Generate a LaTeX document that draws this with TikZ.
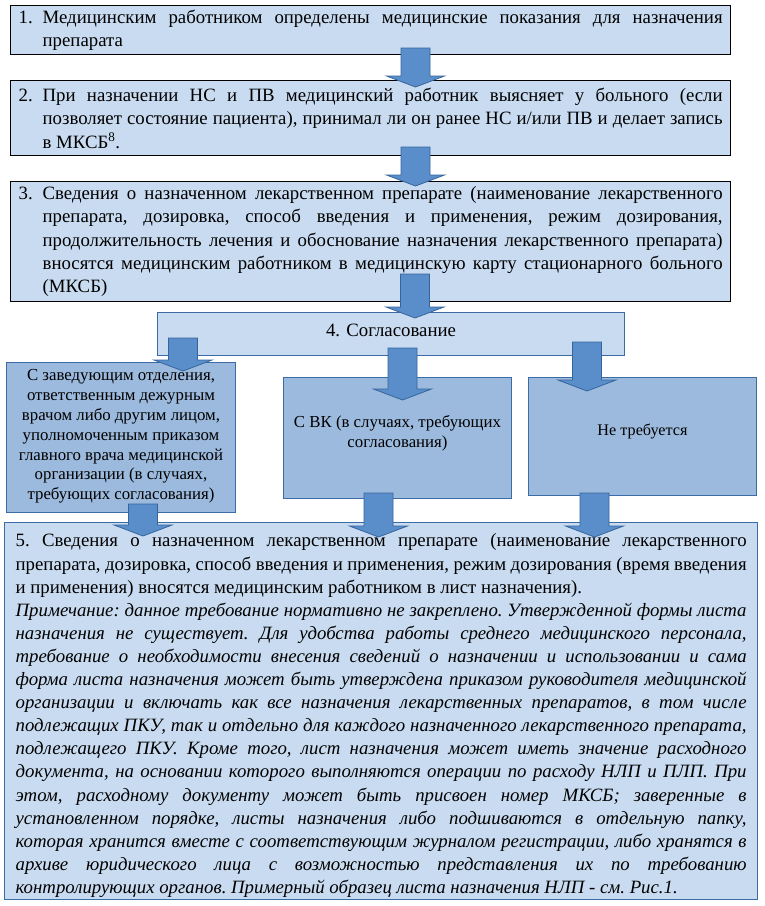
\documentclass[tikz,border=0pt]{standalone}
\usepackage{fontspec}
\setmainfont{Liberation Serif}
\usetikzlibrary{calc}
\definecolor{lightfill}{HTML}{C8DBF0}
\definecolor{darkfill}{HTML}{9CBADD}
\definecolor{bluebord}{HTML}{3C6CA6}
\definecolor{arrfill}{HTML}{5A8ECB}
\definecolor{arrline}{HTML}{36659C}
\newcommand\blockarrow[2]{%
  \filldraw[arrowstyle] ($(#1)+(-14.5,0)$) -- ($(#1)+(14.5,0)$) -- ($(#2)+(14.5,-11)$) -- ($(#2)+(29,-11)$) -- (#2) -- ($(#2)+(-29,-11)$) -- ($(#2)+(-14.5,-11)$) -- cycle;}
\newcommand\numbered[2]{\makebox[24pt][l]{#1}\parbox[t]{680pt}{\frenchspacing\tolerance=9999\emergencystretch=20pt\hbadness=10000 #2}}
\begin{document}
\begin{tikzpicture}[x=1pt,y=-1pt,
  mainbox/.style={draw=black, line width=1.3pt, fill=lightfill, anchor=north west,
    inner ysep=0pt, inner xsep=8pt, minimum width=720pt,
    font=\fontsize{18.8}{23.3}\selectfont},
  agreebox/.style={draw=bluebord, line width=1pt, fill=lightfill, anchor=north west,
    inner sep=0pt},
  subbox/.style={draw=bluebord, line width=1pt, fill=darkfill, anchor=north west,
    inner sep=0pt},
  subtext/.style={inner sep=0pt, align=center, font=\fontsize{16.8}{19.8}\selectfont},
  notebox/.style={draw=bluebord, line width=1.3pt, fill=lightfill, anchor=north west,
    inner sep=0pt},
  notetext/.style={inner sep=0pt, text width=731pt, align=justify,
    font=\fontsize{18.8}{23.1}\selectfont},
  arrowstyle/.style={fill=arrfill, draw=arrline, line width=0.8pt, line join=miter}]
\useasboundingbox[fill=white] (0,0) rectangle (765,906);

\node[mainbox, minimum height=49pt] (b1) at (10,5)
 {\numbered{1.}{Медицинским работником определены медицинские показания для назначения\linebreak препарата}};

\node[mainbox, minimum height=75pt] (b2) at (10,80)
 {\numbered{2.}{При назначении НС и ПВ медицинский работник выясняет у больного (если\linebreak позволяет состояние пациента), принимал ли он ранее НС и/или ПВ и делает запись\linebreak в МКСБ\textsuperscript{8}.}};

\node[mainbox, minimum height=120pt] (b3) at (10,181)
 {\numbered{3.}{Сведения о назначенном лекарственном препарате (наименование лекарственного\linebreak препарата, дозировка, способ введения и применения, режим дозирования,\linebreak продолжительность лечения и обоснование назначения лекарственного препарата)\linebreak вносятся медицинским работником в медицинскую карту стационарного больного\linebreak (МКСБ)}};

\node[agreebox, minimum width=467pt, minimum height=43pt] (b4) at (157,312) {};
\node[subtext, font=\fontsize{18.8}{23.3}\selectfont] (b4t) at ($(b4.center)+(0,-3.5)$) {4. Согласование};

\node[subbox, minimum width=229pt, minimum height=150pt] (bl) at (6,362) {};
\node[subtext] (blt) at ($(bl.center)+(0,-1)$)
 {С заведующим отделения,\\ответственным дежурным\\врачом либо другим лицом,\\уполномоченным приказом\\главного врача медицинской\\организации (в случаях,\\требующих согласования)};

\node[subbox, minimum width=228pt, minimum height=121pt] (bm) at (283,377) {};
\node[subtext] (bmt) at ($(bm.center)+(0,-4.5)$) {С ВК (в случаях, требующих\\согласования)};

\node[subbox, minimum width=228pt, minimum height=118pt] (br) at (528,377) {};
\node[subtext, font=\fontsize{16.2}{19.8}\selectfont] (brt) at ($(br.center)+(0,-5)$) {Не требуется};

\node[notebox, minimum width=753pt, minimum height=377pt] (b5) at (4,522) {};
\node[notetext] (b5t) at ($(b5.center)+(0,4.5)$)
 {\frenchspacing\tolerance=9999\emergencystretch=20pt\hbadness=10000\noindent 5. Сведения о назначенном лекарственном препарате (наименование лекарственного\linebreak препарата, дозировка, способ введения и применения, режим дозирования (время введения\linebreak и применения) вносятся медицинским работником в лист назначения).\par
 \noindent\itshape Примечание: данное требование нормативно не закреплено. Утвержденной формы листа\linebreak назначения не существует. Для удобства работы среднего медицинского персонала,\linebreak требование о необходимости внесения сведений о назначении и использовании и сама\linebreak форма листа назначения может быть утверждена приказом руководителя медицинской\linebreak организации и включать как все назначения лекарственных препаратов, в том числе\linebreak подлежащих ПКУ, так и отдельно для каждого назначенного лекарственного препарата,\linebreak подлежащего ПКУ. Кроме того, лист назначения может иметь значение расходного\linebreak документа, на основании которого выполняются операции по расходу НЛП и ПЛП. При\linebreak этом, расходному документу может быть присвоен номер МКСБ; заверенные в\linebreak установленном порядке, листы назначения либо подшиваются в отдельную папку,\linebreak которая хранится вместе с соответствующим журналом регистрации, либо хранятся в\linebreak архиве юридического лица с возможностью представления их по требованию\linebreak контролирующих органов. Примерный образец листа назначения НЛП - см. Рис.1.\par};

% arrow end points
\coordinate (a1s) at (415.5,48);  \coordinate (a1e) at (415.5,87);
\coordinate (a2s) at (415.5,147); \coordinate (a2e) at (415.5,186);
\coordinate (a3s) at (415,274);   \coordinate (a3e) at (415,318);
\coordinate (a4s) at (183,338);   \coordinate (a4e) at (183,371);
\coordinate (a5s) at (402.5,348); \coordinate (a5e) at (402.5,400);
\coordinate (a6s) at (587,342);   \coordinate (a6e) at (587,391);
\coordinate (a7s) at (143,504);   \coordinate (a7e) at (143,536);
\coordinate (a8s) at (378.5,493); \coordinate (a8e) at (378.5,537);
\coordinate (a9s) at (594.5,493); \coordinate (a9e) at (594.5,537);

\blockarrow{a1s}{a1e}
\blockarrow{a2s}{a2e}
\blockarrow{a3s}{a3e}
\blockarrow{a4s}{a4e}
\blockarrow{a5s}{a5e}
\blockarrow{a6s}{a6e}
\blockarrow{a7s}{a7e}
\blockarrow{a8s}{a8e}
\blockarrow{a9s}{a9e}
\end{tikzpicture}
\end{document}
